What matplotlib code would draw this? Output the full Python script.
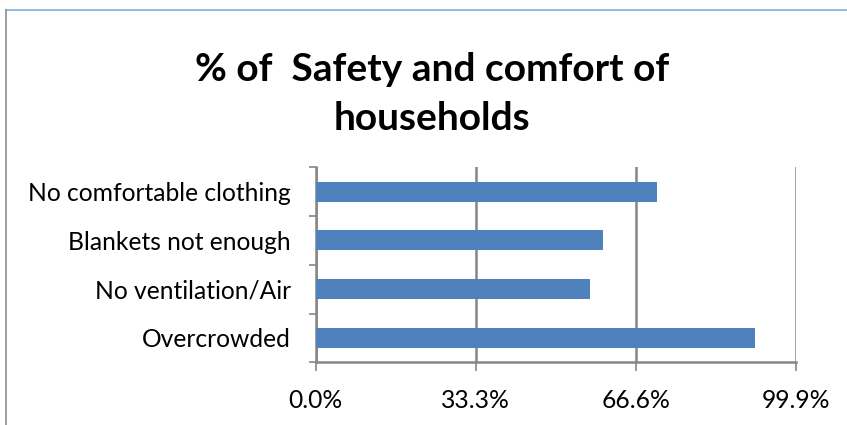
import matplotlib.pyplot as plt
from matplotlib.lines import Line2D

# Share of households reporting each safety/comfort problem (%)
categories = ['Overcrowded', 'No ventilation/Air', 'Blankets not enough',
              'No comfortable clothing']
values = [91.4, 57.1, 59.7, 71.0]
x_ticks = [0.0, 33.3, 66.6, 99.9]

BAR = '#4F81BD'
AXIS = '#868686'

plt.rcParams['font.family'] = ['Lato', 'DejaVu Sans']

fig = plt.figure(figsize=(8.47, 4.25), dpi=100)
ax = fig.add_axes([315.7 / 847, 1 - 362.3 / 425,
                   480 / 847, 195 / 425])

pos = list(range(len(categories)))
ax.barh(pos, values, height=0.41, color=BAR, zorder=3)

ax.set_xlim(0, 99.9)
ax.set_ylim(-0.5, len(categories) - 0.5)

ax.set_xticks(x_ticks)
ax.set_xticklabels([f'{v:.1f}%' for v in x_ticks], fontsize=17.7)
ax.xaxis.grid(True, color=AXIS, lw=1.8, zorder=0)
ax.tick_params(axis='x', length=6.5, width=1.2, color=AXIS, pad=13)

# category boundaries get the tick marks, labels sit between them
ax.set_yticks([p - 0.5 for p in pos] + [pos[-1] + 0.5])
ax.set_yticklabels([])
ax.set_yticks(pos, minor=True)
ax.set_yticklabels(categories, minor=True, fontsize=17.7)
ax.tick_params(axis='y', which='major', length=5, width=1.2, color=AXIS)
ax.tick_params(axis='y', which='minor', length=0, pad=18)

for side in ('top', 'right'):
    ax.spines[side].set_visible(False)
for side in ('left', 'bottom'):
    ax.spines[side].set_color(AXIS)
    ax.spines[side].set_linewidth(1.8)

fig.text(432 / 847, 1 - 94 / 425, '% of  Safety and comfort of\nhouseholds',
         ha='center', va='center', multialignment='center',
         fontsize=28, fontweight='bold', linespacing=1.45)

# chart frame
fig.add_artist(Line2D([6 / 847, 1.01], [1 - 10 / 425] * 2,
                      transform=fig.transFigure, color='#7FAEDB', lw=1.2))
fig.add_artist(Line2D([6 / 847] * 2, [-0.01, 1 - 10 / 425],
                      transform=fig.transFigure, color='#8C8C8C', lw=1.2))

fig.savefig('out.png', dpi=100)
